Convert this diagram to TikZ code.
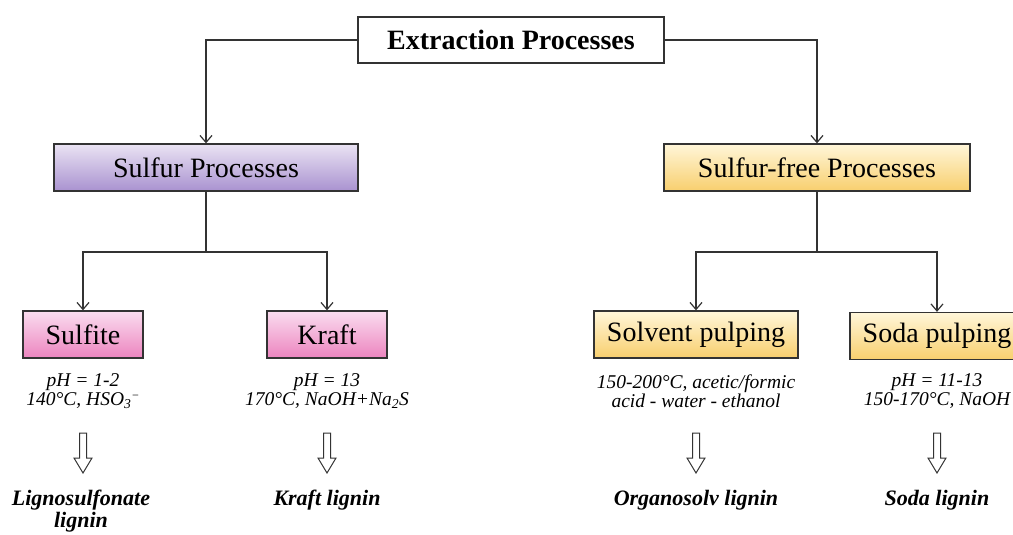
\documentclass[tikz,border=0pt]{standalone}
\usepackage{fontspec}
\setmainfont{Liberation Serif}
\usetikzlibrary{arrows.meta}
\definecolor{edge}{HTML}{333333}
\definecolor{purTop}{HTML}{EAE3F3}
\definecolor{purBot}{HTML}{A992D0}
\definecolor{yelTop}{HTML}{FFF6D9}
\definecolor{yelBot}{HTML}{F8CF6E}
\definecolor{pinkTop}{HTML}{FADDEF}
\definecolor{pinkBot}{HTML}{EC84BF}
\begin{document}
\begin{tikzpicture}[x=1pt,y=-1pt,
  boxbase/.style={draw=edge, line width=1.3pt, inner sep=0pt, anchor=center},
  topbox/.style={boxbase, fill=white, minimum width=306pt, minimum height=46pt,
     font=\fontsize{28}{30}\selectfont\bfseries},
  purbox/.style={boxbase, top color=purTop, bottom color=purBot, minimum width=304pt, minimum height=47pt,
     font=\fontsize{28}{30}\selectfont},
  yelbox/.style={boxbase, top color=yelTop, bottom color=yelBot, minimum height=47pt,
     font=\fontsize{28}{30}\selectfont},
  pinkbox/.style={boxbase, top color=pinkTop, bottom color=pinkBot, minimum width=120pt, minimum height=47pt,
     font=\fontsize{28}{30}\selectfont},
  cond/.style={align=center, font=\fontsize{19.5}{19}\selectfont\itshape, inner sep=0pt},
  prod/.style={align=center, font=\fontsize{22}{22}\selectfont\bfseries\itshape, inner sep=0pt},
  conn/.style={draw=edge, line width=1.6pt},
  arr/.style={conn, -{Straight Barb[length=7pt,width=12pt,line width=1.2pt]}},
  hollow/.style={draw=edge, line width=1pt, fill=white}
]
\clip (0,0) rectangle (1013,535);

% boxes
\node[topbox] (ext) at (511,40) {Extraction Processes};
\node[purbox] (sul) at (206,167.5) {Sulfur Processes};
\node[yelbox, minimum width=306pt] (sfree) at (817,167.5) {Sulfur-free Processes};
\node[pinkbox] (sulfite) at (83,334.5) {Sulfite};
\node[pinkbox] (kraft) at (327,334.5) {Kraft};
\node[yelbox, minimum width=204pt] (solv) at (696,334.5) {Solvent pulping};
\node[yelbox, minimum width=174pt] (soda) at (937,336) {Soda pulping};

% junctions
\coordinate (jl) at (206,252);
\coordinate (jr) at (817,252);

% connectors
\draw[arr] (ext.west) -| (sul.north);
\draw[arr] (ext.east) -| (sfree.north);
\draw[conn] (sul.south) -- (jl);
\draw[conn] (sfree.south) -- (jr);
\draw[arr] (jl) -| (sulfite.north);
\draw[arr] (jl) -| (kraft.north);
\draw[arr] (jr) -| (solv.north);
\draw[arr] (jr) -| (soda.north);

% conditions
\node[cond] (c1) at (83,391) {pH = 1-2\\140°C, HSO\textsubscript{3}\raisebox{0.6ex}{\fontsize{12}{12}\selectfont −}};
\node[cond] (c2) at (327,391) {pH = 13\\170°C, NaOH+Na\textsubscript{2}S};
\node[cond] (c3) at (696,391) {150-200°C, acetic/formic\\acid - water - ethanol};
\node[cond] (c4) at (937,391) {pH = 11-13\\150-170°C, NaOH};

% hollow arrows
\foreach \x/\n in {83/h1,327/h2,696/h3,937/h4}{
  \draw[hollow] (\x-3.5,433) -- (\x+3.5,433) -- (\x+3.5,458) -- (\x+9,458) -- (\x,473)
     -- (\x-9,458) -- (\x-3.5,458) -- cycle;
}

% products
\node[prod] (p1) at (81,511) {Lignosulfonate\\lignin};
\node[prod] (p2) at (327,500) {Kraft lignin};
\node[prod] (p3) at (696,500) {Organosolv lignin};
\node[prod] (p4) at (937,500) {Soda lignin};
\end{tikzpicture}
\end{document}
